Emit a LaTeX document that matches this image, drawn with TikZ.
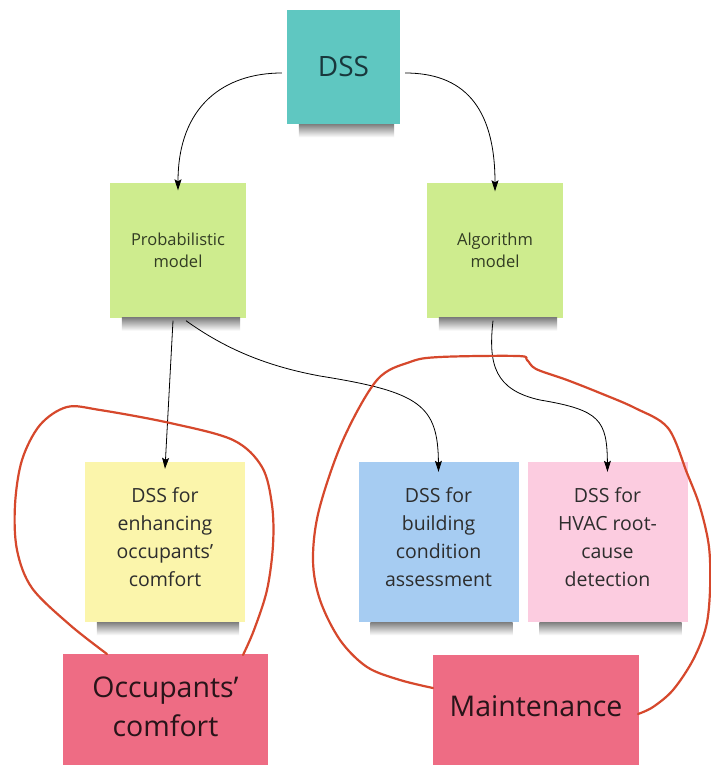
\documentclass[tikz,border=0pt]{standalone}
\usepackage{fontspec}
\setmainfont{Open Sans}
\usetikzlibrary{arrows.meta}

\definecolor{teal}{RGB}{95,199,193}
\definecolor{lime}{RGB}{206,236,142}
\definecolor{paleyellow}{RGB}{251,245,171}
\definecolor{paleblue}{RGB}{166,204,242}
\definecolor{palepink}{RGB}{252,204,224}
\definecolor{rose}{RGB}{238,108,132}
\definecolor{inkred}{RGB}{214,72,44}
\definecolor{notetext}{RGB}{45,45,45}

\tikzset{
  note/.style={draw=none, align=center, inner sep=0pt, text=notetext},
  bignote/.style={note, minimum width=160pt, minimum height=160pt},
  bigtext/.style={align=center, inner sep=0pt, text=notetext,
    font=\fontsize{19.5}{28}\selectfont},
  modelnote/.style={note, fill=lime, minimum width=136pt, minimum height=135pt,
    font=\fontsize{16.5}{23}\selectfont, text={rgb,255:red,50;green,60;blue,35}},
  label/.style={draw=none, align=center, fill=rose, inner sep=0pt,
    text={rgb,255:red,40;green,20;blue,25}, font=\fontsize{28.5}{39}\selectfont},
  drop/.style={top color=black!50, bottom color=white, draw=none},
  link/.style={draw=black, line width=0.8pt, -{Stealth[length=11pt,width=7pt,inset=2pt]}},
  loop/.style={draw=inkred, line width=2.2pt, line cap=round, line join=round}
}

% soft shadow strip under the lower edge of a note
\newcommand{\noteshadow}[1]{%
  \shade[drop] ([xshift=12pt]#1.south west) rectangle ([shift={(-6pt,-13pt)}]#1.south east);}

\begin{document}
\begin{tikzpicture}[x=1pt,y=-1pt]
  % page frame
  \fill[white] (0,0) rectangle (711,765);
  \useasboundingbox (0,0) rectangle (711,765);

  % top decision node
  \node[note, fill=teal, minimum width=113pt, minimum height=114pt,
        font=\fontsize{28}{34}\selectfont, text={rgb,255:red,25;green,55;blue,60}]
        (dss) at (343.5,67) {DSS};

  % model layer
  \node[modelnote] (prob) at (178,250) {Probabilistic\\[-1pt]model};
  \node[modelnote] (algo) at (495,250) {Algorithm\\[-1pt]model};

  % application notes (text set slightly above the centre)
  \node[bignote, fill=paleyellow] (comfort) at (165,542) {};
  \node[bigtext] (comfort-text) at ([yshift=5pt]comfort.center)
       {DSS for\\enhancing\\occupants’\\comfort};
  \node[bignote, fill=paleblue] (building) at (438.5,542) {};
  \node[bigtext] (building-text) at ([yshift=5pt]building.center)
       {DSS for\\building\\condition\\assessment};
  \node[bignote, fill=palepink] (hvac) at (607.5,542) {};
  \node[bigtext] (hvac-text) at ([yshift=5pt]hvac.center)
       {DSS for\\HVAC root-\\cause\\detection};

  % shadows under the sticky notes
  \noteshadow{dss}
  \noteshadow{prob}
  \noteshadow{algo}
  \noteshadow{comfort}
  \noteshadow{building}
  \noteshadow{hvac}

  % category labels along the lower edge
  \node[label, minimum width=205pt, minimum height=111pt] (occ) at (165.5,709.5) {};
  \node[label, fill=none] (occ-text) at ([yshift=3pt]occ.center) {Occupants'\\comfort};
  \node[label, minimum width=206pt, minimum height=110pt] (maint) at (536,710) {};
  \node[label, fill=none] (maint-text) at ([yshift=4pt]maint.center) {Maintenance};

  % connectors
  \draw[link] ([shift={(-5,6)}]dss.west)
     .. controls (225,73) and (178,105) .. ([yshift=-8]prob.north);
  \draw[link] ([shift={(5,6)}]dss.east)
     .. controls (462,73) and (495,105) .. ([yshift=-9]algo.north);
  \draw[link] ([shift={(-5,3)}]prob.south) -- ([yshift=-7]comfort.north);
  \draw[link] ([shift={(8,3)}]prob.south)
     .. controls (220,345) and (260,365) .. (320,376)
     .. controls (420,392) and (438,405) .. ([yshift=-10]building.north);
  \draw[link] ([shift={(-2,3)}]algo.south)
     .. controls (488,365) and (495,390) .. (540,400)
     .. controls (600,410) and (607,420) .. ([yshift=-10]hvac.north);

  % hand-drawn grouping loops
  \draw[loop] plot[smooth, tension=0.55] coordinates {
     (107,654) (70,625) (32,588) (17,550) (15,505) (22,460) (40,425)
     (67,407) (100,410) (170,423) (233,440) (262,467) (272,505)
     (273,545) (267,590) (254,630) (243,655)};
  \draw[loop] plot[smooth, tension=0.55] coordinates {
     (433,688) (400,680) (367,667) (340,640) (320,600) (313,560)
     (319,510) (343,440) (377,380) (410,362) (440,357) (518,356)
     (527,360) (536,369) (567,380) (600,393) (635,408) (668,428)
     (687,473) (700,507) (709,547) (710,590) (706,627) (693,660)
     (673,690) (653,707) (638,714)};
\end{tikzpicture}
\end{document}
